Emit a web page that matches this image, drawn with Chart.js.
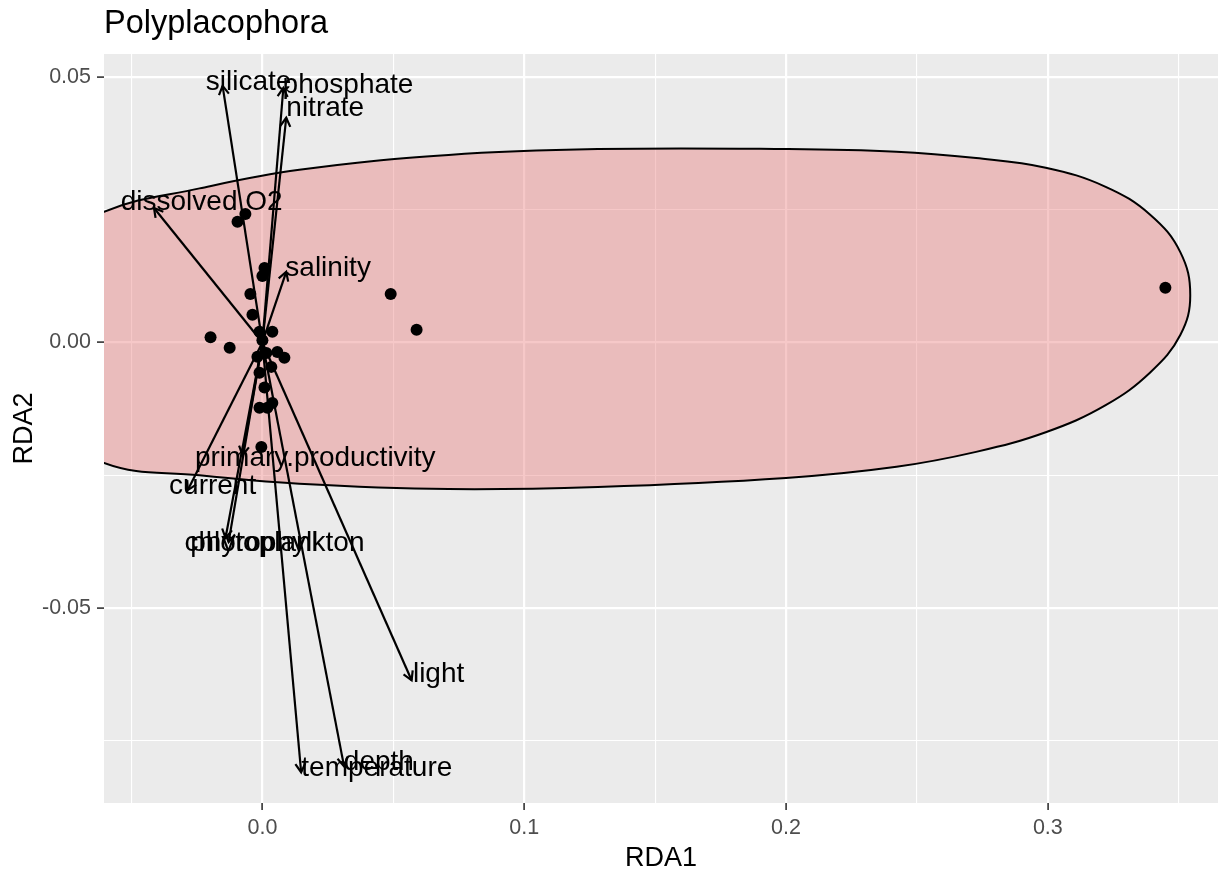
<!DOCTYPE html>
<html>
<head>
<meta charset="utf-8">
<title>Polyplacophora RDA biplot</title>
<script src="https://cdn.jsdelivr.net/npm/chart.js@4.4.1/dist/chart.umd.min.js"></script>
<style>
  html, body { margin: 0; padding: 0; background: #ffffff; }
  #wrap { width: 1224px; height: 875px; }
</style>
</head>
<body>
<div id="wrap"><canvas id="myChart" width="1224" height="875"></canvas></div>
<script>
// site scores
var siteX = [0.3449, 0.0490, 0.0589, -0.0198, -0.0125, -0.0065, -0.0095, 0.0008, 0.0000, -0.0046,
  -0.0038, -0.0011, 0.0038, 0.0000, -0.0019, 0.0015, 0.0057, 0.0084, 0.0034, -0.0011,
  0.0008, -0.0011, 0.0019, 0.0038, -0.0004];
var siteY = [0.0103, 0.0091, 0.0024, 0.0010, -0.0010, 0.0242, 0.0227, 0.0140, 0.0125, 0.0091,
  0.0052, 0.0020, 0.0020, 0.0004, -0.0027, -0.0020, -0.0018, -0.0029, -0.0046, -0.0057,
  -0.0085, -0.0123, -0.0123, -0.0114, -0.0197];

// environmental vectors
var varNames = ['silicate', 'phosphate', 'nitrate', 'dissolved.O2', 'salinity', 'primary.productivity',
  'current', 'chlorophyll', 'phytoplankton', 'light', 'depth', 'temperature'];
var varLabels = ['silicate', 'phosphate', 'nitrate', 'dissolved O2', 'salinity', 'primary.productivity',
  'current', 'chlorophyll', 'phytoplankton', 'light', 'depth', 'temperature'];
var arrowX = [-0.0152, 0.0080, 0.0091, -0.0414, 0.0091, -0.0076, -0.0285, -0.0141, -0.0129, 0.0570, 0.0312, 0.0148];
var arrowY = [0.0483, 0.0479, 0.0423, 0.0253, 0.0133, -0.0212, -0.0278, -0.0368, -0.0376, -0.0636, -0.0798, -0.0809];
var labelX = [-0.0053, 0.0327, 0.0240, -0.0232, 0.0251, 0.0202, -0.0190, -0.0042, 0.0057, 0.0673, 0.0445, 0.0437];
var labelY = [0.0489, 0.0485, 0.0440, 0.0264, 0.0140, -0.0218, -0.0270, -0.0378, -0.0378, -0.0624, -0.0790, -0.0801];

// ellipse outline
var ellipseX = [-0.0924, -0.0810, -0.0605, -0.0240, 0.0141, 0.0711, 0.1281, 0.2000, 0.2422, 0.2726, 0.2992,
  0.3221, 0.3392, 0.3506, 0.3544, 0.3506, 0.3392, 0.3221, 0.2992, 0.2726, 0.2422, 0.2000, 0.1281, 0.0711,
  0.0141, -0.0240, -0.0605, -0.0810, -0.0924];
var ellipseY = [0.0005, 0.0174, 0.0246, 0.0290, 0.0325, 0.0353, 0.0364, 0.0364, 0.0359, 0.0347, 0.0329,
  0.0293, 0.0240, 0.0170, 0.0089, 0.0014, -0.0056, -0.0118, -0.0169, -0.0206, -0.0234, -0.0255, -0.0272, -0.0276,
  -0.0266, -0.0250, -0.0227, -0.0146, 0.0005];

// axes
var xTicks = [-0.05, 0, 0.05, 0.1, 0.15, 0.2, 0.25, 0.3, 0.35];
var xTickLabels = ['', '0.0', '', '0.1', '', '0.2', '', '0.3', ''];
var yTicks = [-0.075, -0.05, -0.025, 0, 0.025, 0.05];
var yTickLabels = ['', '-0.05', '', '0.00', '', '0.05'];
var xRange = [-0.0605, 0.3650];
var yRange = [-0.0867, 0.0543];

var FONT = '"Liberation Sans", Arial, Helvetica, sans-serif';

function toPoints(xs, ys) {
  var pts = [];
  for (var i = 0; i < xs.length; i++) pts.push({ x: xs[i], y: ys[i] });
  return pts;
}

function isMajor(ticks, labels, v) {
  for (var i = 0; i < ticks.length; i++) {
    if (Math.abs(ticks[i] - v) < 1e-9) return labels[i] !== '';
  }
  return false;
}

function labelFor(ticks, labels, v) {
  for (var i = 0; i < ticks.length; i++) {
    if (Math.abs(ticks[i] - v) < 1e-9) return labels[i];
  }
  return '';
}

var panelPlugin = {
  id: 'panel',
  beforeDraw: function (chart) {
    var a = chart.chartArea, ctx = chart.ctx;
    ctx.save();
    ctx.fillStyle = '#ffffff';
    ctx.fillRect(0, 0, chart.width, chart.height);
    ctx.fillStyle = '#EBEBEB';
    ctx.fillRect(a.left, a.top, a.right - a.left, a.bottom - a.top);
    ctx.restore();
  },
  afterDatasetsDraw: function (chart) {
    var ctx = chart.ctx, xs = chart.scales.x, ys = chart.scales.y;
    ctx.save();
    ctx.strokeStyle = '#000000';
    ctx.lineWidth = 2.2;
    ctx.lineCap = 'butt';
    var x0 = xs.getPixelForValue(0), y0 = ys.getPixelForValue(0);
    for (var i = 0; i < varNames.length; i++) {
      var x1 = xs.getPixelForValue(arrowX[i]), y1 = ys.getPixelForValue(arrowY[i]);
      ctx.beginPath();
      ctx.moveTo(x0, y0);
      ctx.lineTo(x1, y1);
      ctx.stroke();
      // open arrow head
      var ang = Math.atan2(y1 - y0, x1 - x0);
      var len = 10, spread = Math.PI / 6;
      ctx.beginPath();
      ctx.moveTo(x1 - len * Math.cos(ang - spread), y1 - len * Math.sin(ang - spread));
      ctx.lineTo(x1, y1);
      ctx.lineTo(x1 - len * Math.cos(ang + spread), y1 - len * Math.sin(ang + spread));
      ctx.stroke();
    }
    ctx.fillStyle = '#000000';
    ctx.font = '28px ' + FONT;
    ctx.textAlign = 'center';
    ctx.textBaseline = 'middle';
    for (var j = 0; j < varLabels.length; j++) {
      ctx.fillText(varLabels[j], xs.getPixelForValue(labelX[j]), ys.getPixelForValue(labelY[j]));
    }
    ctx.restore();
  },
  afterDraw: function (chart) {
    var ctx = chart.ctx, a = chart.chartArea;
    ctx.save();
    ctx.fillStyle = '#000000';
    ctx.font = '32.5px ' + FONT;
    ctx.textAlign = 'left';
    ctx.textBaseline = 'alphabetic';
    ctx.fillText('Polyplacophora', a.left, 33);
    ctx.font = '27px ' + FONT;
    ctx.textAlign = 'center';
    ctx.fillText('RDA1', (a.left + a.right) / 2, 866);
    ctx.translate(32, (a.top + a.bottom) / 2);
    ctx.rotate(-Math.PI / 2);
    ctx.fillText('RDA2', 0, 0);
    ctx.restore();
  }
};

function gridOpts(ticks, labels) {
  return {
    color: '#ffffff',
    lineWidth: function (c) { return isMajor(ticks, labels, c.tick.value) ? 2.2 : 1.1; },
    drawTicks: true,
    tickLength: 7,
    tickWidth: 1.6,
    tickColor: function (c) { return isMajor(ticks, labels, c.tick.value) ? '#333333' : 'rgba(0,0,0,0)'; }
  };
}

var config = {
  type: 'scatter',
  data: {
    datasets: [{
      type: 'line',
      label: 'ellipse',
      data: toPoints(ellipseX, ellipseY),
      borderColor: '#000000',
      borderWidth: 2,
      backgroundColor: 'rgba(232,117,117,0.4)',
      fill: 'shape',
      tension: 0.4,
      pointRadius: 0,
      clip: 0,
      order: 2
    }, {
      label: 'sites',
      data: toPoints(siteX, siteY),
      pointRadius: 6,
      pointBackgroundColor: '#000000',
      pointBorderWidth: 0,
      order: 1
    }]
  },
  options: {
    responsive: false,
    animation: false,
    devicePixelRatio: 1,
    layout: { padding: { top: 54, right: 1, left: 0, bottom: 0 } },
    elements: { line: { capBezierPoints: false } },
    plugins: {
      legend: { display: false },
      tooltip: { enabled: false },
      title: { display: false }
    },
    scales: {
      x: {
        type: 'linear',
        min: xRange[0],
        max: xRange[1],
        afterBuildTicks: function (s) { s.ticks = xTicks.map(function (v) { return { value: v }; }); },
        afterFit: function (s) { s.height = 72; },
        border: { display: false },
        grid: gridOpts(xTicks, xTickLabels),
        ticks: {
          autoSkip: false,
          maxRotation: 0,
          padding: 5,
          color: '#4D4D4D',
          font: { family: FONT, size: 21.5 },
          callback: function (v) { return labelFor(xTicks, xTickLabels, v); }
        }
      },
      y: {
        type: 'linear',
        min: yRange[0],
        max: yRange[1],
        afterBuildTicks: function (s) { s.ticks = yTicks.map(function (v) { return { value: v }; }); },
        afterFit: function (s) { s.width = 104; },
        border: { display: false },
        grid: gridOpts(yTicks, yTickLabels),
        ticks: {
          autoSkip: false,
          padding: 6,
          color: '#4D4D4D',
          font: { family: FONT, size: 21.5 },
          callback: function (v) { return labelFor(yTicks, yTickLabels, v); }
        }
      }
    }
  },
  plugins: [panelPlugin]
};

var ctx = document.getElementById('myChart').getContext('2d');
window.myBiplot = new Chart(ctx, config);
</script>
</body>
</html>
